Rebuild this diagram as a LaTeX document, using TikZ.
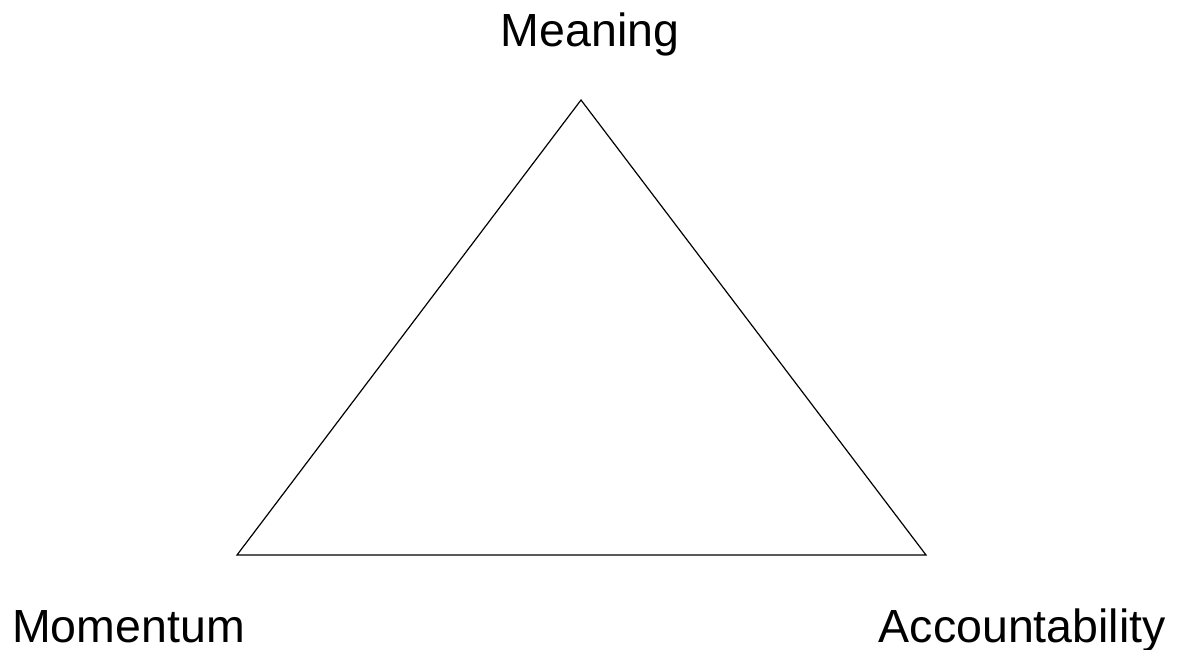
\documentclass[tikz,border=0pt]{standalone}
\usepackage{fontspec}
\setmainfont{Liberation Sans}
\usetikzlibrary{positioning}
\definecolor{text}{HTML}{000000}
\tikzset{
  corner/.style={font=\fontsize{46.5}{52}\selectfont, text=text, inner sep=0pt},
  edge/.style={draw=text, line width=1.2pt, line join=miter}
}
\begin{document}
\begin{tikzpicture}[x=1pt,y=-1pt]
        \useasboundingbox (0,0) rectangle (1177,650);
        \coordinate (top) at (581,100);
        \coordinate (left) at (237,555);
        \coordinate (right) at (926,555);
        \draw[edge] (top) -- (right) -- (left) -- cycle;
        \node[corner,anchor=base] (meaning) at (590,47) {Meaning};
        \node[corner,anchor=base west] (momentum) at (12,642) {Momentum};
        \node[corner,anchor=base east] (account) at (1166,642) {Accountability};
      \end{tikzpicture}
\end{document}
